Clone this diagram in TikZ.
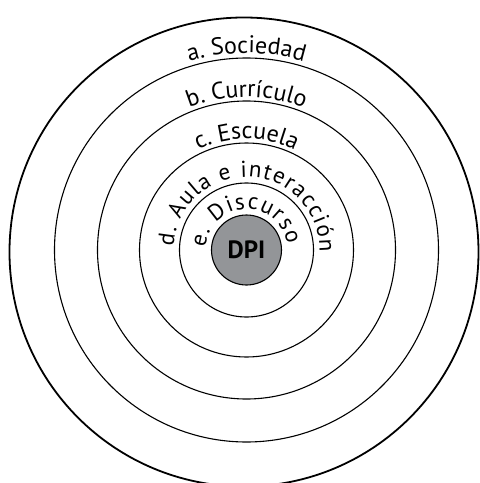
\documentclass[tikz,border=0pt]{standalone}
\usepackage{fontspec}
\setmainfont{PT Sans}
\usetikzlibrary{decorations.text}
\definecolor{dpigray}{RGB}{147,149,152}
\begin{document}
\begin{tikzpicture}[x=1pt, y=1pt,
    ring/.style={line width=1.1pt},
    ringlabel/.style={decorate, decoration={text along path, text align=center,
        text={|\fontsize{24}{24}\selectfont|#1}}},
    ringfit/.style={decorate, decoration={text along path, text align=fit to path,
        text={|\fontsize{23}{23}\selectfont|#1}}}]
\useasboundingbox (-246.5,-233) rectangle (233.5,250);
\coordinate (O) at (0,0);
\draw[line width=1.8pt] (-2.5,-2) circle[radius=234.5];
\foreach \r in {192,149,107,67}
{
    \draw[ring] (O) circle[radius=\r];
}
\node[circle, draw, ring, fill=dpigray, minimum size=70pt, inner sep=0pt,
    font=\bfseries\fontsize{25}{25}\selectfont] (dpi) at (O) {DPI};

\path[ringlabel={a. Sociedad}] (180:197) arc[start angle=180, end angle=0, radius=197];
\path[ringlabel={b. Currículo}] (180:153) arc[start angle=180, end angle=0, radius=153];
\path[ringlabel={c. Escuela}] (180:111) arc[start angle=180, end angle=0, radius=111];
\path[ringfit={d. Aula e interacción}] (177:73) arc[start angle=177, end angle=-2, radius=73];
\path[ringfit={e. Discurso}] (176:41) arc[start angle=176, end angle=8, radius=41];

\end{tikzpicture}
\end{document}
